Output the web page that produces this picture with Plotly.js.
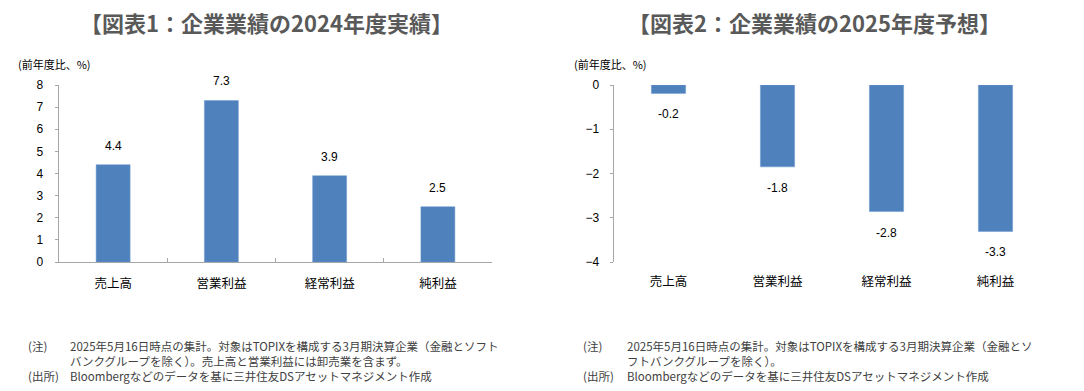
<!DOCTYPE html>
<html>
<head>
<meta charset="utf-8">
<script src="https://cdn.plot.ly/plotly-3.0.1.min.js"></script>
<style>html,body{margin:0;padding:0;background:#fff;}#chart{width:1084px;height:391px;}</style>
</head>
<body>
<div id="chart"></div>
<script>
const categories = ["売上高", "営業利益", "経常利益", "純利益"];
const actual2024 = [4.4, 7.3, 3.9, 2.5];
const actual2024Labels = ["4.4", "7.3", "3.9", "2.5"];
const forecast2025 = [-0.19, -1.85, -2.86, -3.31];
const forecast2025Labels = ["-0.2", "-1.8", "-2.8", "-3.3"];
const title1 = "【図表1：企業業績の2024年度実績】";
const title2 = "【図表2：企業業績の2025年度予想】";
const yTitle = "(前年度比、%)";
const note1Lines = ["2025年5月16日時点の集計。対象はTOPIXを構成する3月期決算企業（金融とソフト",
                    "バンクグループを除く）。売上高と営業利益には卸売業を含まず。"];
const note2Lines = ["2025年5月16日時点の集計。対象はTOPIXを構成する3月期決算企業（金融とソ",
                    "フトバンクグループを除く）。"];
const source = "Bloombergなどのデータを基に三井住友DSアセットマネジメント作成";

const W = 1084, H = 391;
const FONT = "'Liberation Sans', 'Noto Sans CJK JP', sans-serif";
const JFONT = "'Noto Sans CJK JP', sans-serif";
const BAR = "#4f81bd";
const AX = "#a6a6a6";

const px = v => v / W;
const py = v => 1 - v / H;

const traces = [
  {type: "bar", x: categories, y: actual2024, xaxis: "x", yaxis: "y",
   marker: {color: BAR, line: {color: "#6f9bd0", width: 0.5}}, hoverinfo: "skip"},
  {type: "bar", x: categories, y: forecast2025, xaxis: "x2", yaxis: "y2",
   marker: {color: BAR, line: {color: "#6f9bd0", width: 0.5}}, hoverinfo: "skip"}
];

const annotations = [];
categories.forEach((c, i) => {
  annotations.push({xref: "x", yref: "y", x: c, y: actual2024[i], text: actual2024Labels[i],
    showarrow: false, yanchor: "middle", yshift: 19, font: {family: FONT, size: 12, color: "#000"}});
  annotations.push({xref: "x2", yref: "y2", x: c, y: forecast2025[i], text: forecast2025Labels[i],
    showarrow: false, yanchor: "middle", yshift: -21, font: {family: FONT, size: 12, color: "#000"}});
});
// titles
annotations.push({xref: "paper", yref: "paper", x: px(266), y: py(22), text: "<b>" + title1 + "</b>",
  showarrow: false, xanchor: "center", yanchor: "middle", font: {family: JFONT, size: 22, color: "#595959"}});
annotations.push({xref: "paper", yref: "paper", x: px(814), y: py(22), text: "<b>" + title2 + "</b>",
  showarrow: false, xanchor: "center", yanchor: "middle", font: {family: JFONT, size: 22, color: "#595959"}});
// y titles
annotations.push({xref: "paper", yref: "paper", x: px(16), y: py(64), text: yTitle,
  showarrow: false, xanchor: "left", yanchor: "middle", font: {family: JFONT, size: 11, color: "#000"}});
annotations.push({xref: "paper", yref: "paper", x: px(572), y: py(64), text: yTitle,
  showarrow: false, xanchor: "left", yanchor: "middle", font: {family: JFONT, size: 11, color: "#000"}});
// notes
const noteFont = {family: JFONT, size: 11.5, color: "#404040"};
const addText = (x, y, t) => annotations.push({xref: "paper", yref: "paper", x: px(x), y: py(y), text: t,
  showarrow: false, xanchor: "left", yanchor: "middle", align: "left", font: noteFont});
[[26, 68, note1Lines], [581, 625, note2Lines]].forEach(([xl, xt, lines]) => {
  addText(xl, 346, "(注)");
  addText(xt, 346, lines[0]);
  addText(xt, 361, lines[1]);
  addText(xl, 376, "(出所)");
  addText(xt, 376, source);
});

const tickFont = {family: FONT, size: 12, color: "#000"};
const catFont = {family: JFONT, size: 12.5, color: "#000"};

const layout = {
  width: W, height: H,
  margin: {l: 0, r: 0, t: 0, b: 0},
  paper_bgcolor: "#fff", plot_bgcolor: "rgba(0,0,0,0)",
  showlegend: false, bargap: 0.686,
  font: {family: FONT},
  xaxis: {domain: [px(59), px(492)], anchor: "y", type: "category",
    showline: true, linecolor: AX, linewidth: 1.3, showgrid: false, zeroline: false,
    ticks: "inside", tickson: "boundaries", ticklen: 4, tickcolor: AX, tickwidth: 1,
    tickfont: catFont, ticklabelstandoff: 10, fixedrange: true},
  yaxis: {domain: [py(262), py(85)], anchor: "x", range: [0, 8], dtick: 1,
    showline: true, linecolor: AX, linewidth: 1.3, showgrid: false, zeroline: false,
    ticks: "outside", ticklen: 3, tickcolor: AX, tickfont: tickFont, ticklabelstandoff: 9, fixedrange: true},
  xaxis2: {domain: [px(614), px(1050)], anchor: "y2", type: "category",
    showline: false, showgrid: false, zeroline: false, ticks: "",
    tickfont: catFont, ticklabelstandoff: 10, fixedrange: true},
  xaxis3: {overlaying: "x2", anchor: "y2", side: "top", range: [-0.5, 3.5],
    tickvals: [-0.5, 0.5, 1.5, 2.5, 3.5], showticklabels: false,
    showline: true, linecolor: AX, linewidth: 1.3, showgrid: false, zeroline: false,
    ticks: "inside", ticklen: 4, tickcolor: AX, fixedrange: true},
  yaxis2: {domain: [py(262), py(85)], anchor: "x2", range: [-4, 0], dtick: 1,
    showline: true, linecolor: AX, linewidth: 1.3, showgrid: false, zeroline: false,
    ticks: "outside", ticklen: 3, tickcolor: AX, tickfont: tickFont, ticklabelstandoff: 8, fixedrange: true},
  annotations: annotations
};

Plotly.newPlot("chart", traces, layout, {displayModeBar: false, staticPlot: true});
</script>
</body>
</html>
